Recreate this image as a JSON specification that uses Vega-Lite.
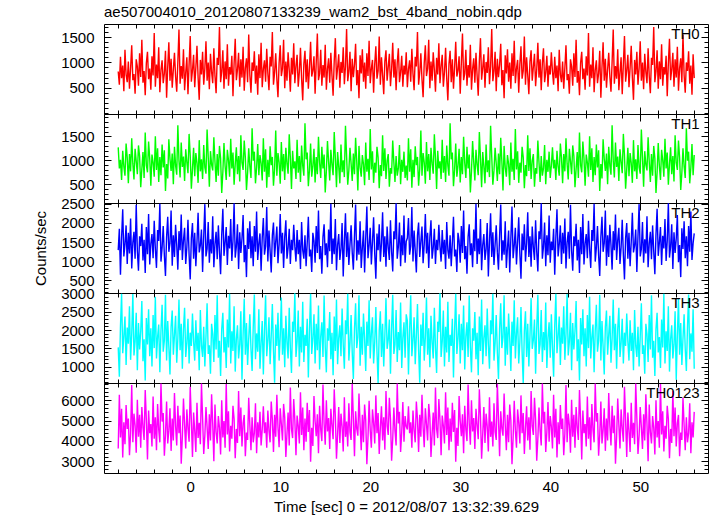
{
"$schema": "https://vega.github.io/schema/vega-lite/v6.json",
"padding": {"left": 33, "top": 4, "right": 5, "bottom": 5},
"config": {
  "font": "Liberation Sans",
  "view": {"stroke": "black", "strokeWidth": 1},
  "concat": {"spacing": 0},
  "axis": {"labelFont": "Liberation Sans", "labelFontSize": 15, "labelColor": "black", "titleFont": "Liberation Sans", "titleFontSize": 15, "titleFontWeight": "normal", "titleColor": "black", "tickColor": "black", "tickWidth": 1, "domain": false, "grid": false, "format": "d"},
  "line": {"strokeWidth": 1.4, "clip": true}
},
"datasets": {"lc": [
{"t":-8,"th0":820,"th1":1270,"th2":1290,"th3":1530,"th0123":3630},
{"t":-7.875,"th0":560,"th1":830,"th2":1845,"th3":730,"th0123":6270},
{"t":-7.75,"th0":1110,"th1":1010,"th2":645,"th3":2110,"th0123":4170},
{"t":-7.625,"th0":690,"th1":590,"th2":1620,"th3":2990,"th0123":5580},
{"t":-7.5,"th0":940,"th1":1200,"th2":2355,"th3":1370,"th0123":3180},
{"t":-7.375,"th0":430,"th1":870,"th2":1125,"th3":1830,"th0123":4920},
{"t":-7.25,"th0":1250,"th1":680,"th2":1440,"th3":2370,"th0123":3840},
{"t":-7.125,"th0":760,"th1":1350,"th2":1935,"th3":1050,"th0123":5760},
{"t":-7,"th0":610,"th1":1060,"th2":930,"th3":2070,"th0123":4590},
{"t":-6.875,"th0":1020,"th1":520,"th2":1740,"th3":1630,"th0123":5100},
{"t":-6.75,"th0":480,"th1":1130,"th2":1200,"th3":2650,"th0123":3300},
{"t":-6.625,"th0":890,"th1":770,"th2":2115,"th3":1190,"th0123":4350},
{"t":-6.5,"th0":1340,"th1":1460,"th2":810,"th3":1890,"th0123":6750},
{"t":-6.375,"th0":650,"th1":930,"th2":1485,"th3":2980,"th0123":3930},
{"t":-6.25,"th0":770,"th1":600,"th2":1770,"th3":1310,"th0123":5340},
{"t":-6.125,"th0":380,"th1":1240,"th2":1065,"th3":1690,"th0123":4770},
{"t":-6,"th0":1060,"th1":980,"th2":2475,"th3":2470,"th0123":3420},
{"t":-5.875,"th0":920,"th1":710,"th2":1275,"th3":910,"th0123":6030},
{"t":-5.75,"th0":540,"th1":1310,"th2":750,"th3":2190,"th0123":4200},
{"t":-5.625,"th0":1180,"th1":1090,"th2":1650,"th3":1470,"th0123":5280},
{"t":-5.5,"th0":710,"th1":440,"th2":1395,"th3":1970,"th0123":3660},
{"t":-5.375,"th0":1450,"th1":820,"th2":1980,"th3":2790,"th0123":5670},
{"t":-5.25,"th0":600,"th1":1170,"th2":1020,"th3":1150,"th0123":4680},
{"t":-5.125,"th0":830,"th1":630,"th2":1560,"th3":1750,"th0123":4050},
{"t":-5,"th0":350,"th1":1580,"th2":690,"th3":630,"th0123":6510},
{"t":-4.875,"th0":990,"th1":900,"th2":1890,"th3":2330,"th0123":5040},
{"t":-4.75,"th0":1210,"th1":750,"th2":1185,"th3":1610,"th0123":3090},
{"t":-4.625,"th0":670,"th1":1390,"th2":2235,"th3":2570,"th0123":5490},
{"t":-4.5,"th0":880,"th1":1040,"th2":915,"th3":1290,"th0123":4380},
{"t":-4.375,"th0":460,"th1":470,"th2":1455,"th3":2050,"th0123":4830},
{"t":-4.25,"th0":1120,"th1":1120,"th2":1710,"th3":1010,"th0123":3720},
{"t":-4.125,"th0":740,"th1":950,"th2":1080,"th3":2410,"th0123":6180},
{"t":-4,"th0":1580,"th1":660,"th2":2055,"th3":1510,"th0123":4110},
{"t":-3.875,"th0":520,"th1":1500,"th2":1320,"th3":2910,"th0123":5160},
{"t":-3.75,"th0":960,"th1":800,"th2":825,"th3":1230,"th0123":3540},
{"t":-3.625,"th0":690,"th1":1250,"th2":1815,"th3":1810,"th0123":5820},
{"t":-3.5,"th0":1300,"th1":550,"th2":1530,"th3":2150,"th0123":4560},
{"t":-3.375,"th0":410,"th1":1070,"th2":2500,"th3":850,"th0123":3930},
{"t":-3.25,"th0":850,"th1":690,"th2":990,"th3":1990,"th0123":6820},
{"t":-3.125,"th0":1040,"th1":1330,"th2":1350,"th3":2690,"th0123":4950},
{"t":-3,"th0":590,"th1":850,"th2":1920,"th3":1410,"th0123":5370},
{"t":-2.875,"th0":780,"th1":1210,"th2":1155,"th3":1710,"th0123":3270},
{"t":-2.75,"th0":1230,"th1":360,"th2":615,"th3":2960,"th0123":4290},
{"t":-2.625,"th0":300,"th1":920,"th2":1635,"th3":1170,"th0123":5940},
{"t":-2.5,"th0":910,"th1":620,"th2":2160,"th3":2250,"th0123":3870},
{"t":-2.375,"th0":1400,"th1":1440,"th2":1245,"th3":1550,"th0123":4530},
{"t":-2.25,"th0":640,"th1":1030,"th2":1470,"th3":790,"th0123":5610},
{"t":-2.125,"th0":1070,"th1":780,"th2":2325,"th3":2090,"th0123":3510},
{"t":-2,"th0":500,"th1":1140,"th2":885,"th3":2530,"th0123":5100},
{"t":-1.875,"th0":860,"th1":500,"th2":1680,"th3":1330,"th0123":4020},
{"t":-1.75,"th0":1190,"th1":1280,"th2":1110,"th3":1870,"th0123":6360},
{"t":-1.625,"th0":720,"th1":890,"th2":1950,"th3":2390,"th0123":4740},
{"t":-1.5,"th0":420,"th1":700,"th2":1425,"th3":1110,"th0123":3780},
{"t":-1.375,"th0":1010,"th1":1730,"th2":780,"th3":1770,"th0123":5730},
{"t":-1.25,"th0":1650,"th1":990,"th2":1785,"th3":2830,"th0123":4380},
{"t":-1.125,"th0":580,"th1":640,"th2":1290,"th3":1450,"th0123":5250},
{"t":-1,"th0":930,"th1":1370,"th2":2220,"th3":2170,"th0123":2880},
{"t":-0.875,"th0":680,"th1":860,"th2":1035,"th3":950,"th0123":4200},
{"t":-0.75,"th0":1260,"th1":1080,"th2":1545,"th3":2030,"th0123":6090},
{"t":-0.625,"th0":450,"th1":570,"th2":1875,"th3":2610,"th0123":4800},
{"t":-0.5,"th0":800,"th1":1230,"th2":930,"th3":1270,"th0123":3630},
{"t":-0.375,"th0":1100,"th1":960,"th2":1365,"th3":1650,"th0123":5550},
{"t":-0.25,"th0":370,"th1":730,"th2":2085,"th3":2310,"th0123":4620},
{"t":-0.125,"th0":970,"th1":1550,"th2":1170,"th3":1090,"th0123":3960},
{"t":0,"th0":1520,"th1":1100,"th2":525,"th3":1930,"th0123":6660},
{"t":0.125,"th0":620,"th1":410,"th2":1605,"th3":1570,"th0123":5010},
{"t":0.25,"th0":840,"th1":810,"th2":1995,"th3":2450,"th0123":3210},
{"t":0.375,"th0":1150,"th1":1260,"th2":1065,"th3":1690,"th0123":5400},
{"t":0.5,"th0":510,"th1":670,"th2":1740,"th3":1170,"th0123":4500},
{"t":0.625,"th0":900,"th1":1150,"th2":870,"th3":2270,"th0123":3450},
{"t":0.75,"th0":1330,"th1":940,"th2":1500,"th3":1430,"th0123":5880},
{"t":0.875,"th0":700,"th1":530,"th2":2265,"th3":1930,"th0123":4140},
{"t":1,"th0":260,"th1":1420,"th2":1230,"th3":910,"th0123":4890},
{"t":1.125,"th0":1050,"th1":770,"th2":1410,"th3":2550,"th0123":3840},
{"t":1.25,"th0":760,"th1":1020,"th2":1830,"th3":1570,"th0123":6830},
{"t":1.375,"th0":1210,"th1":610,"th2":720,"th3":1270,"th0123":5130},
{"t":1.5,"th0":560,"th1":1320,"th2":1650,"th3":2090,"th0123":3360},
{"t":1.625,"th0":880,"th1":850,"th2":2490,"th3":1010,"th0123":4260},
{"t":1.75,"th0":1420,"th1":720,"th2":1125,"th3":1830,"th0123":5670},
{"t":1.875,"th0":640,"th1":1640,"th2":1320,"th3":2730,"th0123":4680},
{"t":2,"th0":1000,"th1":1070,"th2":2025,"th3":1350,"th0123":3600},
{"t":2.125,"th0":470,"th1":450,"th2":960,"th3":1590,"th0123":5310},
{"t":2.25,"th0":1170,"th1":1190,"th2":1575,"th3":810,"th0123":4020},
{"t":2.375,"th0":810,"th1":910,"th2":1200,"th3":2170,"th0123":6300},
{"t":2.5,"th0":590,"th1":790,"th2":2175,"th3":1890,"th0123":4830},
{"t":2.625,"th0":1280,"th1":1480,"th2":840,"th3":1130,"th0123":3000},
{"t":2.75,"th0":730,"th1":970,"th2":1455,"th3":2410,"th0123":5790},
{"t":2.875,"th0":390,"th1":550,"th2":1770,"th3":1470,"th0123":4440},
{"t":3,"th0":1090,"th1":1130,"th2":1050,"th3":2950,"th0123":3870},
{"t":3.125,"th0":950,"th1":680,"th2":1935,"th3":1250,"th0123":5220},
{"t":3.25,"th0":1700,"th1":1300,"th2":1260,"th3":1710,"th0123":4650},
{"t":3.375,"th0":610,"th1":1040,"th2":660,"th3":750,"th0123":3330},
{"t":3.5,"th0":820,"th1":320,"th2":1695,"th3":2030,"th0123":6000},
{"t":3.625,"th0":1240,"th1":750,"th2":2370,"th3":2470,"th0123":4170},
{"t":3.75,"th0":480,"th1":1360,"th2":1140,"th3":1390,"th0123":4980},
{"t":3.875,"th0":1020,"th1":880,"th2":1485,"th3":1810,"th0123":3660},
{"t":4,"th0":670,"th1":590,"th2":1890,"th3":970,"th0123":6800},
{"t":4.125,"th0":1360,"th1":1220,"th2":900,"th3":2290,"th0123":4320},
{"t":4.25,"th0":540,"th1":1000,"th2":1665,"th3":1530,"th0123":5460},
{"t":4.375,"th0":910,"th1":660,"th2":1335,"th3":2990,"th0123":3480},
{"t":4.5,"th0":760,"th1":1450,"th2":2100,"th3":1090,"th0123":4740},
{"t":4.625,"th0":1130,"th1":830,"th2":1005,"th3":1970,"th0123":4110},
{"t":4.75,"th0":330,"th1":1160,"th2":1530,"th3":1430,"th0123":5730},
{"t":4.875,"th0":980,"th1":490,"th2":2510,"th3":2650,"th0123":5070},
{"t":5,"th0":1470,"th1":920,"th2":1095,"th3":870,"th0123":3150},
{"t":5.125,"th0":650,"th1":1270,"th2":1380,"th3":1750,"th0123":4590},
{"t":5.25,"th0":860,"th1":710,"th2":1965,"th3":2130,"th0123":3900},
{"t":5.375,"th0":1190,"th1":1090,"th2":795,"th3":1230,"th0123":6450},
{"t":5.5,"th0":520,"th1":560,"th2":1755,"th3":1610,"th0123":4230},
{"t":5.625,"th0":1060,"th1":1520,"th2":1215,"th3":2510,"th0123":5640},
{"t":5.75,"th0":700,"th1":950,"th2":1590,"th3":650,"th0123":3720},
{"t":5.875,"th0":1310,"th1":800,"th2":2205,"th3":1870,"th0123":4860},
{"t":6,"th0":440,"th1":1410,"th2":975,"th3":2850,"th0123":5280},
{"t":6.125,"th0":890,"th1":1060,"th2":1425,"th3":1330,"th0123":3240},
{"t":6.25,"th0":1080,"th1":380,"th2":585,"th3":2190,"th0123":4410},
{"t":6.375,"th0":610,"th1":740,"th2":1860,"th3":1050,"th0123":4050},
{"t":6.5,"th0":1550,"th1":1250,"th2":1320,"th3":1770,"th0123":6120},
{"t":6.625,"th0":750,"th1":870,"th2":2040,"th3":2430,"th0123":4770},
{"t":6.75,"th0":400,"th1":630,"th2":1080,"th3":1490,"th0123":3540},
{"t":6.875,"th0":1000,"th1":1670,"th2":1650,"th3":890,"th0123":5160},
{"t":7,"th0":830,"th1":990,"th2":870,"th3":2070,"th0123":3930},
{"t":7.125,"th0":1220,"th1":1180,"th2":1920,"th3":2970,"th0123":4380},
{"t":7.25,"th0":580,"th1":520,"th2":1245,"th3":1210,"th0123":5850},
{"t":7.375,"th0":940,"th1":850,"th2":2295,"th3":1910,"th0123":3390},
{"t":7.5,"th0":360,"th1":1340,"th2":1035,"th3":1410,"th0123":4920},
{"t":7.625,"th0":1160,"th1":690,"th2":1470,"th3":2570,"th0123":4170},
{"t":7.75,"th0":690,"th1":1110,"th2":1725,"th3":950,"th0123":5430},
{"t":7.875,"th0":1390,"th1":940,"th2":750,"th3":1650,"th0123":3780},
{"t":8,"th0":510,"th1":580,"th2":1605,"th3":2250,"th0123":4560},
{"t":8.125,"th0":870,"th1":1460,"th2":2130,"th3":790,"th0123":5700},
{"t":8.25,"th0":1040,"th1":760,"th2":1170,"th3":1990,"th0123":4380},
{"t":8.375,"th0":620,"th1":1230,"th2":1395,"th3":2950,"th0123":4920},
{"t":8.5,"th0":1270,"th1":430,"th2":2415,"th3":1290,"th0123":3660},
{"t":8.625,"th0":780,"th1":1010,"th2":990,"th3":1730,"th0123":5490},
{"t":8.75,"th0":450,"th1":650,"th2":1800,"th3":2350,"th0123":4500},
{"t":8.875,"th0":1110,"th1":1290,"th2":1275,"th3":1070,"th0123":3930},
{"t":9,"th0":920,"th1":900,"th2":705,"th3":1850,"th0123":5940},
{"t":9.125,"th0":1600,"th1":1070,"th2":1680,"th3":2710,"th0123":5070},
{"t":9.25,"th0":560,"th1":470,"th2":2010,"th3":1450,"th0123":3450},
{"t":9.375,"th0":800,"th1":820,"th2":1110,"th3":570,"th0123":5280},
{"t":9.5,"th0":1180,"th1":1620,"th2":1515,"th3":2150,"th0123":4200},
{"t":9.625,"th0":670,"th1":680,"th2":1905,"th3":1570,"th0123":6270},
{"t":9.75,"th0":310,"th1":1150,"th2":945,"th3":2470,"th0123":4680},
{"t":9.875,"th0":990,"th1":960,"th2":1440,"th3":1170,"th0123":3690},
{"t":10,"th0":1340,"th1":510,"th2":2235,"th3":1810,"th0123":5610},
{"t":10.125,"th0":730,"th1":1380,"th2":1200,"th3":2890,"th0123":4830},
{"t":10.25,"th0":880,"th1":770,"th2":1740,"th3":1330,"th0123":4020},
{"t":10.375,"th0":1450,"th1":1130,"th2":825,"th3":2050,"th0123":5820},
{"t":10.5,"th0":490,"th1":590,"th2":1635,"th3":990,"th0123":5160},
{"t":10.625,"th0":1020,"th1":1260,"th2":2070,"th3":2390,"th0123":3210},
{"t":10.75,"th0":640,"th1":930,"th2":1065,"th3":1670,"th0123":4350},
{"t":10.875,"th0":1200,"th1":720,"th2":1350,"th3":1230,"th0123":5400},
{"t":11,"th0":850,"th1":1540,"th2":1845,"th3":2610,"th0123":3780},
{"t":11.125,"th0":420,"th1":1050,"th2":930,"th3":1510,"th0123":6630},
{"t":11.25,"th0":1090,"th1":400,"th2":1560,"th3":830,"th0123":4590},
{"t":11.375,"th0":760,"th1":1200,"th2":1290,"th3":2230,"th0123":4140},
{"t":11.5,"th0":1380,"th1":830,"th2":1950,"th3":1950,"th0123":6060},
{"t":11.625,"th0":590,"th1":980,"th2":1380,"th3":3000,"th0123":5010},
{"t":11.75,"th0":930,"th1":610,"th2":990,"th3":1270,"th0123":3300},
{"t":11.875,"th0":1150,"th1":1430,"th2":1815,"th3":1690,"th0123":5250},
{"t":12,"th0":520,"th1":740,"th2":1185,"th3":2530,"th0123":4740},
{"t":12.125,"th0":810,"th1":1090,"th2":1560,"th3":1010,"th0123":3870},
{"t":12.25,"th0":1290,"th1":550,"th2":795,"th3":2090,"th0123":6390},
{"t":12.375,"th0":680,"th1":1310,"th2":2025,"th3":1390,"th0123":4290},
{"t":12.5,"th0":250,"th1":890,"th2":1290,"th3":2770,"th0123":5640},
{"t":12.625,"th0":970,"th1":680,"th2":1065,"th3":1130,"th0123":3540},
{"t":12.75,"th0":1230,"th1":1770,"th2":1680,"th3":1870,"th0123":5100},
{"t":12.875,"th0":610,"th1":1020,"th2":870,"th3":1570,"th0123":3960},
{"t":13,"th0":1060,"th1":1160,"th2":1485,"th3":2310,"th0123":5880},
{"t":13.125,"th0":480,"th1":460,"th2":2160,"th3":710,"th0123":4440},
{"t":13.25,"th0":900,"th1":800,"th2":1125,"th3":2010,"th0123":5520},
{"t":13.375,"th0":1410,"th1":1350,"th2":1305,"th3":2990,"th0123":2970},
{"t":13.5,"th0":720,"th1":660,"th2":720,"th3":1350,"th0123":4650},
{"t":13.625,"th0":840,"th1":880,"th2":1740,"th3":1770,"th0123":3750},
{"t":13.75,"th0":1120,"th1":1240,"th2":1530,"th3":2430,"th0123":6210},
{"t":13.875,"th0":380,"th1":540,"th2":960,"th3":1090,"th0123":4980},
{"t":14,"th0":1000,"th1":1070,"th2":1920,"th3":2170,"th0123":4230},
{"t":14.125,"th0":1570,"th1":710,"th2":1215,"th3":1450,"th0123":5310},
{"t":14.25,"th0":650,"th1":1490,"th2":2325,"th3":2670,"th0123":3390},
{"t":14.375,"th0":780,"th1":950,"th2":1050,"th3":930,"th0123":5730},
{"t":14.5,"th0":1250,"th1":630,"th2":1395,"th3":1830,"th0123":4560},
{"t":14.625,"th0":540,"th1":1280,"th2":675,"th3":2210,"th0123":3990},
{"t":14.75,"th0":950,"th1":830,"th2":1635,"th3":1270,"th0123":6780},
{"t":14.875,"th0":700,"th1":1120,"th2":1965,"th3":2940,"th0123":4860},
{"t":15,"th0":1350,"th1":330,"th2":1155,"th3":1550,"th0123":3810},
{"t":15.125,"th0":460,"th1":770,"th2":1470,"th3":850,"th0123":6000},
{"t":15.25,"th0":870,"th1":1400,"th2":840,"th3":2050,"th0123":4470},
{"t":15.375,"th0":1080,"th1":970,"th2":1830,"th3":1710,"th0123":5130},
{"t":15.5,"th0":600,"th1":580,"th2":1260,"th3":2490,"th0123":3600},
{"t":15.625,"th0":1190,"th1":1220,"th2":2500,"th3":1210,"th0123":5580},
{"t":15.75,"th0":740,"th1":910,"th2":930,"th3":1930,"th0123":4770},
{"t":15.875,"th0":340,"th1":690,"th2":1590,"th3":770,"th0123":4080},
{"t":16,"th0":1030,"th1":1590,"th2":1185,"th3":2370,"th0123":6540},
{"t":16.125,"th0":1480,"th1":1040,"th2":2100,"th3":1430,"th0123":5190},
{"t":16.25,"th0":660,"th1":440,"th2":765,"th3":2830,"th0123":3120},
{"t":16.375,"th0":890,"th1":1170,"th2":1425,"th3":1070,"th0123":4320},
{"t":16.5,"th0":1160,"th1":870,"th2":1710,"th3":1790,"th0123":5670},
{"t":16.625,"th0":500,"th1":520,"th2":1035,"th3":2130,"th0123":3900},
{"t":16.75,"th0":1010,"th1":1330,"th2":1320,"th3":1290,"th0123":5340},
{"t":16.875,"th0":790,"th1":750,"th2":1995,"th3":2590,"th0123":4710},
{"t":17,"th0":1300,"th1":1000,"th2":600,"th3":1610,"th0123":3480},
{"t":17.125,"th0":570,"th1":650,"th2":1515,"th3":950,"th0123":6150},
{"t":17.25,"th0":920,"th1":1720,"th2":2250,"th3":2270,"th0123":4200},
{"t":17.375,"th0":1660,"th1":1080,"th2":1110,"th3":1890,"th0123":4950},
{"t":17.5,"th0":630,"th1":490,"th2":1755,"th3":2990,"th0123":3720},
{"t":17.625,"th0":820,"th1":790,"th2":900,"th3":1170,"th0123":5850},
{"t":17.75,"th0":1210,"th1":1260,"th2":1440,"th3":1650,"th0123":4440},
{"t":17.875,"th0":430,"th1":930,"th2":1935,"th3":2410,"th0123":4050},
{"t":18,"th0":1070,"th1":570,"th2":1230,"th3":1390,"th0123":6810},
{"t":18.125,"th0":710,"th1":1140,"th2":780,"th3":670,"th0123":5100},
{"t":18.25,"th0":960,"th1":710,"th2":1665,"th3":2030,"th0123":3240},
{"t":18.375,"th0":1370,"th1":1470,"th2":2480,"th3":2730,"th0123":5460},
{"t":18.5,"th0":550,"th1":980,"th2":1020,"th3":1510,"th0123":4620},
{"t":18.625,"th0":850,"th1":370,"th2":1545,"th3":1810,"th0123":4260},
{"t":18.75,"th0":290,"th1":1300,"th2":1170,"th3":2950,"th0123":6330},
{"t":18.875,"th0":1140,"th1":850,"th2":2040,"th3":1030,"th0123":4800},
{"t":19,"th0":780,"th1":660,"th2":825,"th3":2090,"th0123":3540},
{"t":19.125,"th0":1260,"th1":1110,"th2":1350,"th3":1330,"th0123":5280},
{"t":19.25,"th0":620,"th1":920,"th2":1800,"th3":2450,"th0123":3930},
{"t":19.375,"th0":1000,"th1":480,"th2":705,"th3":1750,"th0123":5790},
{"t":19.5,"th0":480,"th1":1370,"th2":1605,"th3":890,"th0123":5010},
{"t":19.625,"th0":1180,"th1":760,"th2":2430,"th3":2230,"th0123":2850},
{"t":19.75,"th0":730,"th1":1030,"th2":1080,"th3":1570,"th0123":4140},
{"t":19.875,"th0":1430,"th1":590,"th2":1410,"th3":2810,"th0123":5970},
{"t":20,"th0":590,"th1":1650,"th2":1875,"th3":1230,"th0123":4530},
{"t":20.125,"th0":880,"th1":810,"th2":915,"th3":1910,"th0123":3660},
{"t":20.25,"th0":1050,"th1":1190,"th2":1500,"th3":2350,"th0123":5550},
{"t":20.375,"th0":400,"th1":530,"th2":2145,"th3":1090,"th0123":4890},
{"t":20.5,"th0":970,"th1":950,"th2":1200,"th3":1670,"th0123":3870},
{"t":20.625,"th0":1320,"th1":740,"th2":540,"th3":2630,"th0123":6240},
{"t":20.75,"th0":680,"th1":1280,"th2":1725,"th3":1410,"th0123":4380},
{"t":20.875,"th0":830,"th1":1060,"th2":1290,"th3":550,"th0123":5370},
{"t":21,"th0":1510,"th1":420,"th2":1965,"th3":1990,"th0123":3360},
{"t":21.125,"th0":560,"th1":900,"th2":990,"th3":2510,"th0123":4650},
{"t":21.25,"th0":1100,"th1":670,"th2":1470,"th3":1270,"th0123":5700},
{"t":21.375,"th0":750,"th1":1520,"th2":2280,"th3":2170,"th0123":4020},
{"t":21.5,"th0":370,"th1":780,"th2":1110,"th3":1010,"th0123":5160},
{"t":21.625,"th0":1020,"th1":1250,"th2":1650,"th3":1850,"th0123":3570},
{"t":21.75,"th0":1240,"th1":610,"th2":855,"th3":2870,"th0123":6450},
{"t":21.875,"th0":640,"th1":990,"th2":1905,"th3":1490,"th0123":4740},
{"t":22,"th0":910,"th1":1130,"th2":1365,"th3":1730,"th0123":4290},
{"t":22.125,"th0":1170,"th1":450,"th2":1035,"th3":2290,"th0123":6120},
{"t":22.25,"th0":530,"th1":840,"th2":2070,"th3":810,"th0123":5070},
{"t":22.375,"th0":860,"th1":720,"th2":1245,"th3":2050,"th0123":3030},
{"t":22.5,"th0":1390,"th1":1410,"th2":735,"th3":2960,"th0123":4110},
{"t":22.625,"th0":700,"th1":960,"th2":1785,"th3":1350,"th0123":5640},
{"t":22.75,"th0":1060,"th1":550,"th2":1575,"th3":1610,"th0123":4500},
{"t":22.875,"th0":450,"th1":1090,"th2":2510,"th3":2550,"th0123":3780},
{"t":23,"th0":990,"th1":680,"th2":1065,"th3":1130,"th0123":6820},
{"t":23.125,"th0":1280,"th1":830,"th2":1380,"th3":1950,"th0123":4860},
{"t":23.25,"th0":610,"th1":1320,"th2":2010,"th3":1450,"th0123":5430},
{"t":23.375,"th0":800,"th1":500,"th2":870,"th3":2750,"th0123":3450},
{"t":23.5,"th0":1130,"th1":1010,"th2":1680,"th3":970,"th0123":4440},
{"t":23.625,"th0":520,"th1":760,"th2":1155,"th3":1790,"th0123":5910},
{"t":23.75,"th0":940,"th1":1180,"th2":2190,"th3":2210,"th0123":3960},
{"t":23.875,"th0":760,"th1":630,"th2":960,"th3":1250,"th0123":5220},
{"t":24,"th0":1200,"th1":890,"th2":1515,"th3":2430,"th0123":4710},
{"t":24.125,"th0":510,"th1":580,"th2":1605,"th3":2250,"th0123":4560},
{"t":24.25,"th0":870,"th1":1460,"th2":2130,"th3":790,"th0123":5700},
{"t":24.375,"th0":1040,"th1":760,"th2":1170,"th3":1990,"th0123":4380},
{"t":24.5,"th0":620,"th1":1230,"th2":1395,"th3":2950,"th0123":4920},
{"t":24.625,"th0":1270,"th1":430,"th2":2415,"th3":1290,"th0123":3660},
{"t":24.75,"th0":780,"th1":1010,"th2":990,"th3":1730,"th0123":5490},
{"t":24.875,"th0":450,"th1":650,"th2":1800,"th3":2350,"th0123":4500},
{"t":25,"th0":1110,"th1":1290,"th2":1275,"th3":1070,"th0123":3930},
{"t":25.125,"th0":920,"th1":900,"th2":705,"th3":1850,"th0123":5940},
{"t":25.25,"th0":1600,"th1":1070,"th2":1680,"th3":2710,"th0123":5070},
{"t":25.375,"th0":560,"th1":470,"th2":2010,"th3":1450,"th0123":3450},
{"t":25.5,"th0":800,"th1":820,"th2":1110,"th3":570,"th0123":5280},
{"t":25.625,"th0":1180,"th1":1620,"th2":1515,"th3":2150,"th0123":4200},
{"t":25.75,"th0":670,"th1":680,"th2":1905,"th3":1570,"th0123":6270},
{"t":25.875,"th0":310,"th1":1150,"th2":945,"th3":2470,"th0123":4680},
{"t":26,"th0":990,"th1":960,"th2":1440,"th3":1170,"th0123":3690},
{"t":26.125,"th0":1340,"th1":510,"th2":2235,"th3":1810,"th0123":5610},
{"t":26.25,"th0":730,"th1":1380,"th2":1200,"th3":2890,"th0123":4830},
{"t":26.375,"th0":880,"th1":770,"th2":1740,"th3":1330,"th0123":4020},
{"t":26.5,"th0":1450,"th1":1130,"th2":825,"th3":2050,"th0123":5820},
{"t":26.625,"th0":490,"th1":590,"th2":1635,"th3":990,"th0123":5160},
{"t":26.75,"th0":1020,"th1":1260,"th2":2070,"th3":2390,"th0123":3210},
{"t":26.875,"th0":640,"th1":930,"th2":1065,"th3":1670,"th0123":4350},
{"t":27,"th0":1200,"th1":720,"th2":1350,"th3":1230,"th0123":5400},
{"t":27.125,"th0":850,"th1":1540,"th2":1845,"th3":2610,"th0123":3780},
{"t":27.25,"th0":420,"th1":1050,"th2":930,"th3":1510,"th0123":6630},
{"t":27.375,"th0":1090,"th1":400,"th2":1560,"th3":830,"th0123":4590},
{"t":27.5,"th0":760,"th1":1200,"th2":1290,"th3":2230,"th0123":4140},
{"t":27.625,"th0":1380,"th1":830,"th2":1950,"th3":1950,"th0123":6060},
{"t":27.75,"th0":590,"th1":980,"th2":1380,"th3":3000,"th0123":5010},
{"t":27.875,"th0":930,"th1":610,"th2":990,"th3":1270,"th0123":3300},
{"t":28,"th0":1150,"th1":1430,"th2":1815,"th3":1690,"th0123":5250},
{"t":28.125,"th0":520,"th1":740,"th2":1185,"th3":2530,"th0123":4740},
{"t":28.25,"th0":810,"th1":1090,"th2":1560,"th3":1010,"th0123":3870},
{"t":28.375,"th0":1290,"th1":550,"th2":795,"th3":2090,"th0123":6390},
{"t":28.5,"th0":680,"th1":1310,"th2":2025,"th3":1390,"th0123":4290},
{"t":28.625,"th0":250,"th1":890,"th2":1290,"th3":2770,"th0123":5640},
{"t":28.75,"th0":970,"th1":680,"th2":1065,"th3":1130,"th0123":3540},
{"t":28.875,"th0":1230,"th1":1770,"th2":1680,"th3":1870,"th0123":5100},
{"t":29,"th0":610,"th1":1020,"th2":870,"th3":1570,"th0123":3960},
{"t":29.125,"th0":1060,"th1":1160,"th2":1485,"th3":2310,"th0123":5880},
{"t":29.25,"th0":480,"th1":460,"th2":2160,"th3":710,"th0123":4440},
{"t":29.375,"th0":900,"th1":800,"th2":1125,"th3":2010,"th0123":5520},
{"t":29.5,"th0":1410,"th1":1350,"th2":1305,"th3":2990,"th0123":2970},
{"t":29.625,"th0":720,"th1":660,"th2":720,"th3":1350,"th0123":4650},
{"t":29.75,"th0":840,"th1":880,"th2":1740,"th3":1770,"th0123":3750},
{"t":29.875,"th0":1120,"th1":1240,"th2":1530,"th3":2430,"th0123":6210},
{"t":30,"th0":380,"th1":540,"th2":960,"th3":1090,"th0123":4980},
{"t":30.125,"th0":1000,"th1":1070,"th2":1920,"th3":2170,"th0123":4230},
{"t":30.25,"th0":1570,"th1":710,"th2":1215,"th3":1450,"th0123":5310},
{"t":30.375,"th0":650,"th1":1490,"th2":2325,"th3":2670,"th0123":3390},
{"t":30.5,"th0":780,"th1":950,"th2":1050,"th3":930,"th0123":5730},
{"t":30.625,"th0":1250,"th1":630,"th2":1395,"th3":1830,"th0123":4560},
{"t":30.75,"th0":540,"th1":1280,"th2":675,"th3":2210,"th0123":3990},
{"t":30.875,"th0":950,"th1":830,"th2":1635,"th3":1270,"th0123":6780},
{"t":31,"th0":700,"th1":1120,"th2":1965,"th3":2940,"th0123":4860},
{"t":31.125,"th0":1350,"th1":330,"th2":1155,"th3":1550,"th0123":3810},
{"t":31.25,"th0":460,"th1":770,"th2":1470,"th3":850,"th0123":6000},
{"t":31.375,"th0":870,"th1":1400,"th2":840,"th3":2050,"th0123":4470},
{"t":31.5,"th0":1080,"th1":970,"th2":1830,"th3":1710,"th0123":5130},
{"t":31.625,"th0":600,"th1":580,"th2":1260,"th3":2490,"th0123":3600},
{"t":31.75,"th0":1190,"th1":1220,"th2":2500,"th3":1210,"th0123":5580},
{"t":31.875,"th0":740,"th1":910,"th2":930,"th3":1930,"th0123":4770},
{"t":32,"th0":340,"th1":690,"th2":1590,"th3":770,"th0123":4080},
{"t":32.125,"th0":1030,"th1":1590,"th2":1185,"th3":2370,"th0123":6540},
{"t":32.25,"th0":1480,"th1":1040,"th2":2100,"th3":1430,"th0123":5190},
{"t":32.375,"th0":660,"th1":440,"th2":765,"th3":2830,"th0123":3120},
{"t":32.5,"th0":890,"th1":1170,"th2":1425,"th3":1070,"th0123":4320},
{"t":32.625,"th0":1160,"th1":870,"th2":1710,"th3":1790,"th0123":5670},
{"t":32.75,"th0":500,"th1":520,"th2":1035,"th3":2130,"th0123":3900},
{"t":32.875,"th0":1010,"th1":1330,"th2":1320,"th3":1290,"th0123":5340},
{"t":33,"th0":790,"th1":750,"th2":1995,"th3":2590,"th0123":4710},
{"t":33.125,"th0":1300,"th1":1000,"th2":600,"th3":1610,"th0123":3480},
{"t":33.25,"th0":570,"th1":650,"th2":1515,"th3":950,"th0123":6150},
{"t":33.375,"th0":920,"th1":1720,"th2":2250,"th3":2270,"th0123":4200},
{"t":33.5,"th0":1660,"th1":1080,"th2":1110,"th3":1890,"th0123":4950},
{"t":33.625,"th0":630,"th1":490,"th2":1755,"th3":2990,"th0123":3720},
{"t":33.75,"th0":820,"th1":790,"th2":900,"th3":1170,"th0123":5850},
{"t":33.875,"th0":1210,"th1":1260,"th2":1440,"th3":1650,"th0123":4440},
{"t":34,"th0":430,"th1":930,"th2":1935,"th3":2410,"th0123":4050},
{"t":34.125,"th0":1070,"th1":570,"th2":1230,"th3":1390,"th0123":6810},
{"t":34.25,"th0":710,"th1":1140,"th2":780,"th3":670,"th0123":5100},
{"t":34.375,"th0":960,"th1":710,"th2":1665,"th3":2030,"th0123":3240},
{"t":34.5,"th0":1370,"th1":1470,"th2":2480,"th3":2730,"th0123":5460},
{"t":34.625,"th0":550,"th1":980,"th2":1020,"th3":1510,"th0123":4620},
{"t":34.75,"th0":850,"th1":370,"th2":1545,"th3":1810,"th0123":4260},
{"t":34.875,"th0":290,"th1":1300,"th2":1170,"th3":2950,"th0123":6330},
{"t":35,"th0":1140,"th1":850,"th2":2040,"th3":1030,"th0123":4800},
{"t":35.125,"th0":780,"th1":660,"th2":825,"th3":2090,"th0123":3540},
{"t":35.25,"th0":1260,"th1":1110,"th2":1350,"th3":1330,"th0123":5280},
{"t":35.375,"th0":620,"th1":920,"th2":1800,"th3":2450,"th0123":3930},
{"t":35.5,"th0":1000,"th1":480,"th2":705,"th3":1750,"th0123":5790},
{"t":35.625,"th0":480,"th1":1370,"th2":1605,"th3":890,"th0123":5010},
{"t":35.75,"th0":1180,"th1":760,"th2":2430,"th3":2230,"th0123":2850},
{"t":35.875,"th0":730,"th1":1030,"th2":1080,"th3":1570,"th0123":4140},
{"t":36,"th0":1430,"th1":590,"th2":1410,"th3":2810,"th0123":5970},
{"t":36.125,"th0":590,"th1":1650,"th2":1875,"th3":1230,"th0123":4530},
{"t":36.25,"th0":880,"th1":810,"th2":915,"th3":1910,"th0123":3660},
{"t":36.375,"th0":1050,"th1":1190,"th2":1500,"th3":2350,"th0123":5550},
{"t":36.5,"th0":400,"th1":530,"th2":2145,"th3":1090,"th0123":4890},
{"t":36.625,"th0":970,"th1":950,"th2":1200,"th3":1670,"th0123":3870},
{"t":36.75,"th0":1320,"th1":740,"th2":540,"th3":2630,"th0123":6240},
{"t":36.875,"th0":680,"th1":1280,"th2":1725,"th3":1410,"th0123":4380},
{"t":37,"th0":830,"th1":1060,"th2":1290,"th3":550,"th0123":5370},
{"t":37.125,"th0":1510,"th1":420,"th2":1965,"th3":1990,"th0123":3360},
{"t":37.25,"th0":560,"th1":900,"th2":990,"th3":2510,"th0123":4650},
{"t":37.375,"th0":1100,"th1":670,"th2":1470,"th3":1270,"th0123":5700},
{"t":37.5,"th0":750,"th1":1520,"th2":2280,"th3":2170,"th0123":4020},
{"t":37.625,"th0":370,"th1":780,"th2":1110,"th3":1010,"th0123":5160},
{"t":37.75,"th0":1020,"th1":1250,"th2":1650,"th3":1850,"th0123":3570},
{"t":37.875,"th0":1240,"th1":610,"th2":855,"th3":2870,"th0123":6450},
{"t":38,"th0":640,"th1":990,"th2":1905,"th3":1490,"th0123":4740},
{"t":38.125,"th0":910,"th1":1130,"th2":1365,"th3":1730,"th0123":4290},
{"t":38.25,"th0":1170,"th1":450,"th2":1035,"th3":2290,"th0123":6120},
{"t":38.375,"th0":530,"th1":840,"th2":2070,"th3":810,"th0123":5070},
{"t":38.5,"th0":860,"th1":720,"th2":1245,"th3":2050,"th0123":3030},
{"t":38.625,"th0":1390,"th1":1410,"th2":735,"th3":2960,"th0123":4110},
{"t":38.75,"th0":700,"th1":960,"th2":1785,"th3":1350,"th0123":5640},
{"t":38.875,"th0":1060,"th1":550,"th2":1575,"th3":1610,"th0123":4500},
{"t":39,"th0":450,"th1":1090,"th2":2510,"th3":2550,"th0123":3780},
{"t":39.125,"th0":990,"th1":680,"th2":1065,"th3":1130,"th0123":6820},
{"t":39.25,"th0":1280,"th1":830,"th2":1380,"th3":1950,"th0123":4860},
{"t":39.375,"th0":610,"th1":1320,"th2":2010,"th3":1450,"th0123":5430},
{"t":39.5,"th0":800,"th1":500,"th2":870,"th3":2750,"th0123":3450},
{"t":39.625,"th0":1130,"th1":1010,"th2":1680,"th3":970,"th0123":4440},
{"t":39.75,"th0":520,"th1":760,"th2":1155,"th3":1790,"th0123":5910},
{"t":39.875,"th0":940,"th1":1180,"th2":2190,"th3":2210,"th0123":3960},
{"t":40,"th0":760,"th1":630,"th2":960,"th3":1250,"th0123":5220},
{"t":40.125,"th0":1200,"th1":890,"th2":1515,"th3":2430,"th0123":4710},
{"t":40.25,"th0":820,"th1":1270,"th2":1290,"th3":1530,"th0123":3630},
{"t":40.375,"th0":560,"th1":830,"th2":1845,"th3":730,"th0123":6270},
{"t":40.5,"th0":1110,"th1":1010,"th2":645,"th3":2110,"th0123":4170},
{"t":40.625,"th0":690,"th1":590,"th2":1620,"th3":2990,"th0123":5580},
{"t":40.75,"th0":940,"th1":1200,"th2":2355,"th3":1370,"th0123":3180},
{"t":40.875,"th0":430,"th1":870,"th2":1125,"th3":1830,"th0123":4920},
{"t":41,"th0":1250,"th1":680,"th2":1440,"th3":2370,"th0123":3840},
{"t":41.125,"th0":760,"th1":1350,"th2":1935,"th3":1050,"th0123":5760},
{"t":41.25,"th0":610,"th1":1060,"th2":930,"th3":2070,"th0123":4590},
{"t":41.375,"th0":1020,"th1":520,"th2":1740,"th3":1630,"th0123":5100},
{"t":41.5,"th0":480,"th1":1130,"th2":1200,"th3":2650,"th0123":3300},
{"t":41.625,"th0":890,"th1":770,"th2":2115,"th3":1190,"th0123":4350},
{"t":41.75,"th0":1340,"th1":1460,"th2":810,"th3":1890,"th0123":6750},
{"t":41.875,"th0":650,"th1":930,"th2":1485,"th3":2980,"th0123":3930},
{"t":42,"th0":770,"th1":600,"th2":1770,"th3":1310,"th0123":5340},
{"t":42.125,"th0":380,"th1":1240,"th2":1065,"th3":1690,"th0123":4770},
{"t":42.25,"th0":1060,"th1":980,"th2":2475,"th3":2470,"th0123":3420},
{"t":42.375,"th0":920,"th1":710,"th2":1275,"th3":910,"th0123":6030},
{"t":42.5,"th0":540,"th1":1310,"th2":750,"th3":2190,"th0123":4200},
{"t":42.625,"th0":1180,"th1":1090,"th2":1650,"th3":1470,"th0123":5280},
{"t":42.75,"th0":710,"th1":440,"th2":1395,"th3":1970,"th0123":3660},
{"t":42.875,"th0":1450,"th1":820,"th2":1980,"th3":2790,"th0123":5670},
{"t":43,"th0":600,"th1":1170,"th2":1020,"th3":1150,"th0123":4680},
{"t":43.125,"th0":830,"th1":630,"th2":1560,"th3":1750,"th0123":4050},
{"t":43.25,"th0":350,"th1":1580,"th2":690,"th3":630,"th0123":6510},
{"t":43.375,"th0":990,"th1":900,"th2":1890,"th3":2330,"th0123":5040},
{"t":43.5,"th0":1210,"th1":750,"th2":1185,"th3":1610,"th0123":3090},
{"t":43.625,"th0":670,"th1":1390,"th2":2235,"th3":2570,"th0123":5490},
{"t":43.75,"th0":880,"th1":1040,"th2":915,"th3":1290,"th0123":4380},
{"t":43.875,"th0":460,"th1":470,"th2":1455,"th3":2050,"th0123":4830},
{"t":44,"th0":1120,"th1":1120,"th2":1710,"th3":1010,"th0123":3720},
{"t":44.125,"th0":740,"th1":950,"th2":1080,"th3":2410,"th0123":6180},
{"t":44.25,"th0":1580,"th1":660,"th2":2055,"th3":1510,"th0123":4110},
{"t":44.375,"th0":520,"th1":1500,"th2":1320,"th3":2910,"th0123":5160},
{"t":44.5,"th0":960,"th1":800,"th2":825,"th3":1230,"th0123":3540},
{"t":44.625,"th0":690,"th1":1250,"th2":1815,"th3":1810,"th0123":5820},
{"t":44.75,"th0":1300,"th1":550,"th2":1530,"th3":2150,"th0123":4560},
{"t":44.875,"th0":410,"th1":1070,"th2":2500,"th3":850,"th0123":3930},
{"t":45,"th0":850,"th1":690,"th2":990,"th3":1990,"th0123":6820},
{"t":45.125,"th0":1040,"th1":1330,"th2":1350,"th3":2690,"th0123":4950},
{"t":45.25,"th0":590,"th1":850,"th2":1920,"th3":1410,"th0123":5370},
{"t":45.375,"th0":780,"th1":1210,"th2":1155,"th3":1710,"th0123":3270},
{"t":45.5,"th0":1230,"th1":360,"th2":615,"th3":2960,"th0123":4290},
{"t":45.625,"th0":300,"th1":920,"th2":1635,"th3":1170,"th0123":5940},
{"t":45.75,"th0":910,"th1":620,"th2":2160,"th3":2250,"th0123":3870},
{"t":45.875,"th0":1400,"th1":1440,"th2":1245,"th3":1550,"th0123":4530},
{"t":46,"th0":640,"th1":1030,"th2":1470,"th3":790,"th0123":5610},
{"t":46.125,"th0":1070,"th1":780,"th2":2325,"th3":2090,"th0123":3510},
{"t":46.25,"th0":500,"th1":1140,"th2":885,"th3":2530,"th0123":5100},
{"t":46.375,"th0":860,"th1":500,"th2":1680,"th3":1330,"th0123":4020},
{"t":46.5,"th0":1190,"th1":1280,"th2":1110,"th3":1870,"th0123":6360},
{"t":46.625,"th0":720,"th1":890,"th2":1950,"th3":2390,"th0123":4740},
{"t":46.75,"th0":420,"th1":700,"th2":1425,"th3":1110,"th0123":3780},
{"t":46.875,"th0":1010,"th1":1730,"th2":780,"th3":1770,"th0123":5730},
{"t":47,"th0":1650,"th1":990,"th2":1785,"th3":2830,"th0123":4380},
{"t":47.125,"th0":580,"th1":640,"th2":1290,"th3":1450,"th0123":5250},
{"t":47.25,"th0":930,"th1":1370,"th2":2220,"th3":2170,"th0123":2880},
{"t":47.375,"th0":680,"th1":860,"th2":1035,"th3":950,"th0123":4200},
{"t":47.5,"th0":1260,"th1":1080,"th2":1545,"th3":2030,"th0123":6090},
{"t":47.625,"th0":450,"th1":570,"th2":1875,"th3":2610,"th0123":4800},
{"t":47.75,"th0":800,"th1":1230,"th2":930,"th3":1270,"th0123":3630},
{"t":47.875,"th0":1100,"th1":960,"th2":1365,"th3":1650,"th0123":5550},
{"t":48,"th0":370,"th1":730,"th2":2085,"th3":2310,"th0123":4620},
{"t":48.125,"th0":970,"th1":1550,"th2":1170,"th3":1090,"th0123":3960},
{"t":48.25,"th0":1520,"th1":1100,"th2":525,"th3":1930,"th0123":6660},
{"t":48.375,"th0":620,"th1":410,"th2":1605,"th3":1570,"th0123":5010},
{"t":48.5,"th0":840,"th1":810,"th2":1995,"th3":2450,"th0123":3210},
{"t":48.625,"th0":1150,"th1":1260,"th2":1065,"th3":1690,"th0123":5400},
{"t":48.75,"th0":510,"th1":670,"th2":1740,"th3":1170,"th0123":4500},
{"t":48.875,"th0":900,"th1":1150,"th2":870,"th3":2270,"th0123":3450},
{"t":49,"th0":1330,"th1":940,"th2":1500,"th3":1430,"th0123":5880},
{"t":49.125,"th0":700,"th1":530,"th2":2265,"th3":1930,"th0123":4140},
{"t":49.25,"th0":260,"th1":1420,"th2":1230,"th3":910,"th0123":4890},
{"t":49.375,"th0":1050,"th1":770,"th2":1410,"th3":2550,"th0123":3840},
{"t":49.5,"th0":760,"th1":1020,"th2":1830,"th3":1570,"th0123":6830},
{"t":49.625,"th0":1210,"th1":610,"th2":720,"th3":1270,"th0123":5130},
{"t":49.75,"th0":560,"th1":1320,"th2":1650,"th3":2090,"th0123":3360},
{"t":49.875,"th0":880,"th1":850,"th2":2490,"th3":1010,"th0123":4260},
{"t":50,"th0":1420,"th1":720,"th2":1125,"th3":1830,"th0123":5670},
{"t":50.125,"th0":640,"th1":1640,"th2":1320,"th3":2730,"th0123":4680},
{"t":50.25,"th0":1000,"th1":1070,"th2":2025,"th3":1350,"th0123":3600},
{"t":50.375,"th0":470,"th1":450,"th2":960,"th3":1590,"th0123":5310},
{"t":50.5,"th0":1170,"th1":1190,"th2":1575,"th3":810,"th0123":4020},
{"t":50.625,"th0":810,"th1":910,"th2":1200,"th3":2170,"th0123":6300},
{"t":50.75,"th0":590,"th1":790,"th2":2175,"th3":1890,"th0123":4830},
{"t":50.875,"th0":1280,"th1":1480,"th2":840,"th3":1130,"th0123":3000},
{"t":51,"th0":730,"th1":970,"th2":1455,"th3":2410,"th0123":5790},
{"t":51.125,"th0":390,"th1":550,"th2":1770,"th3":1470,"th0123":4440},
{"t":51.25,"th0":1090,"th1":1130,"th2":1050,"th3":2950,"th0123":3870},
{"t":51.375,"th0":950,"th1":680,"th2":1935,"th3":1250,"th0123":5220},
{"t":51.5,"th0":1700,"th1":1300,"th2":1260,"th3":1710,"th0123":4650},
{"t":51.625,"th0":610,"th1":1040,"th2":660,"th3":750,"th0123":3330},
{"t":51.75,"th0":820,"th1":320,"th2":1695,"th3":2030,"th0123":6000},
{"t":51.875,"th0":1240,"th1":750,"th2":2370,"th3":2470,"th0123":4170},
{"t":52,"th0":480,"th1":1360,"th2":1140,"th3":1390,"th0123":4980},
{"t":52.125,"th0":1020,"th1":880,"th2":1485,"th3":1810,"th0123":3660},
{"t":52.25,"th0":670,"th1":590,"th2":1890,"th3":970,"th0123":6800},
{"t":52.375,"th0":1360,"th1":1220,"th2":900,"th3":2290,"th0123":4320},
{"t":52.5,"th0":540,"th1":1000,"th2":1665,"th3":1530,"th0123":5460},
{"t":52.625,"th0":910,"th1":660,"th2":1335,"th3":2990,"th0123":3480},
{"t":52.75,"th0":760,"th1":1450,"th2":2100,"th3":1090,"th0123":4740},
{"t":52.875,"th0":1130,"th1":830,"th2":1005,"th3":1970,"th0123":4110},
{"t":53,"th0":330,"th1":1160,"th2":1530,"th3":1430,"th0123":5730},
{"t":53.125,"th0":980,"th1":490,"th2":2510,"th3":2650,"th0123":5070},
{"t":53.25,"th0":1470,"th1":920,"th2":1095,"th3":870,"th0123":3150},
{"t":53.375,"th0":650,"th1":1270,"th2":1380,"th3":1750,"th0123":4590},
{"t":53.5,"th0":860,"th1":710,"th2":1965,"th3":2130,"th0123":3900},
{"t":53.625,"th0":1190,"th1":1090,"th2":795,"th3":1230,"th0123":6450},
{"t":53.75,"th0":520,"th1":560,"th2":1755,"th3":1610,"th0123":4230},
{"t":53.875,"th0":1060,"th1":1520,"th2":1215,"th3":2510,"th0123":5640},
{"t":54,"th0":700,"th1":950,"th2":1590,"th3":650,"th0123":3720},
{"t":54.125,"th0":1310,"th1":800,"th2":2205,"th3":1870,"th0123":4860},
{"t":54.25,"th0":440,"th1":1410,"th2":975,"th3":2850,"th0123":5280},
{"t":54.375,"th0":890,"th1":1060,"th2":1425,"th3":1330,"th0123":3240},
{"t":54.5,"th0":1080,"th1":380,"th2":585,"th3":2190,"th0123":4410},
{"t":54.625,"th0":610,"th1":740,"th2":1860,"th3":1050,"th0123":4050},
{"t":54.75,"th0":1550,"th1":1250,"th2":1320,"th3":1770,"th0123":6120},
{"t":54.875,"th0":750,"th1":870,"th2":2040,"th3":2430,"th0123":4770},
{"t":55,"th0":400,"th1":630,"th2":1080,"th3":1490,"th0123":3540},
{"t":55.125,"th0":1000,"th1":1670,"th2":1650,"th3":890,"th0123":5160},
{"t":55.25,"th0":830,"th1":990,"th2":870,"th3":2070,"th0123":3930},
{"t":55.375,"th0":1220,"th1":1180,"th2":1920,"th3":2970,"th0123":4380},
{"t":55.5,"th0":580,"th1":520,"th2":1245,"th3":1210,"th0123":5850},
{"t":55.625,"th0":940,"th1":850,"th2":2295,"th3":1910,"th0123":3390},
{"t":55.75,"th0":360,"th1":1340,"th2":1035,"th3":1410,"th0123":4920},
{"t":55.875,"th0":1160,"th1":690,"th2":1470,"th3":2570,"th0123":4170},
{"t":56,"th0":690,"th1":1110,"th2":1725,"th3":950,"th0123":5430}
]},
"bounds": "flush",
"spacing": 0,
"vconcat": [
{
 "width": 604, "height": 90,
 "title": {"text": "ae507004010_20120807133239_wam2_bst_4band_nobin.qdp", "anchor": "start", "frame": "group", "font": "Liberation Sans", "fontSize": 15, "fontWeight": "normal", "color": "black", "offset": 4},
 "layer": [
  {"data": {"name": "lc"}, "mark": {"type": "line", "color": "#ff0000"},
   "encoding": {
    "x": {"field": "t", "type": "quantitative", "scale": {"domain": [-9.58, 57.53], "nice": false, "zero": false}, "axis": {"orient": "bottom", "values": [0,10,20,30,40,50], "tickSize": -7, "labels": false, "title": null}},
    "y": {"field": "th0", "type": "quantitative", "scale": {"domain": [-20, 1760], "nice": false, "zero": false}, "axis": {"orient": "left", "values": [500,1000,1500], "tickSize": -7, "labelPadding": 17, "title": null}}}},
  {"data": {"values": [{}]}, "mark": {"type": "point", "opacity": 0},
   "encoding": {
    "x": {"datum": 0, "type": "quantitative", "scale": {"domain": [-9.58, 57.53], "nice": false, "zero": false}, "axis": {"orient": "bottom", "values": [-8,-6,-4,-2,0,2,4,6,8,10,12,14,16,18,20,22,24,26,28,30,32,34,36,38,40,42,44,46,48,50,52,54,56], "tickSize": -4, "labels": false, "title": null}},
    "y": {"datum": 500, "type": "quantitative", "scale": {"domain": [-20, 1760], "nice": false, "zero": false}, "axis": {"orient": "left", "values": [0,100,200,300,400,500,600,700,800,900,1000,1100,1200,1300,1400,1500,1600,1700], "tickSize": -4, "labels": false, "title": null}}}},
  {"data": {"values": [{}]}, "mark": {"type": "point", "opacity": 0},
   "encoding": {
    "x": {"datum": 0, "type": "quantitative", "scale": {"domain": [-9.58, 57.53], "nice": false, "zero": false}, "axis": {"orient": "top", "values": [0,10,20,30,40,50], "tickSize": -7, "labels": false, "title": null}},
    "y": {"datum": 500, "type": "quantitative", "scale": {"domain": [-20, 1760], "nice": false, "zero": false}, "axis": {"orient": "right", "values": [500,1000,1500], "tickSize": -7, "labels": false, "title": null}}}},
  {"data": {"values": [{}]}, "mark": {"type": "point", "opacity": 0},
   "encoding": {
    "x": {"datum": 0, "type": "quantitative", "scale": {"domain": [-9.58, 57.53], "nice": false, "zero": false}, "axis": {"orient": "top", "values": [-8,-6,-4,-2,0,2,4,6,8,10,12,14,16,18,20,22,24,26,28,30,32,34,36,38,40,42,44,46,48,50,52,54,56], "tickSize": -4, "labels": false, "title": null}},
    "y": {"datum": 500, "type": "quantitative", "scale": {"domain": [-20, 1760], "nice": false, "zero": false}, "axis": {"orient": "right", "values": [0,100,200,300,400,500,600,700,800,900,1000,1100,1200,1300,1400,1500,1600,1700], "tickSize": -4, "labels": false, "title": null}}}},
  {"data": {"values": [{"label": "TH0"}]}, "mark": {"type": "text", "align": "right", "baseline": "top", "font": "Liberation Sans", "fontSize": 15, "color": "black", "dy": 3},
   "encoding": {
    "x": {"datum": 56.6, "type": "quantitative", "scale": {"domain": [-9.58, 57.53], "nice": false, "zero": false}, "axis": null},
    "y": {"datum": 1760, "type": "quantitative", "scale": {"domain": [-20, 1760], "nice": false, "zero": false}, "axis": null},
    "text": {"field": "label"}}}
 ],
 "resolve": {"axis": {"x": "independent", "y": "independent"}}
},
{
 "width": 604, "height": 89,
 "layer": [
  {"data": {"name": "lc"}, "mark": {"type": "line", "color": "#00ff00"},
   "encoding": {
    "x": {"field": "t", "type": "quantitative", "scale": {"domain": [-9.58, 57.53], "nice": false, "zero": false}, "axis": {"orient": "bottom", "values": [0,10,20,30,40,50], "tickSize": -7, "labels": false, "title": null}},
    "y": {"field": "th1", "type": "quantitative", "scale": {"domain": [110, 1965], "nice": false, "zero": false}, "axis": {"orient": "left", "values": [500,1000,1500], "tickSize": -7, "labelPadding": 17, "title": null}}}},
  {"data": {"values": [{}]}, "mark": {"type": "point", "opacity": 0},
   "encoding": {
    "x": {"datum": 0, "type": "quantitative", "scale": {"domain": [-9.58, 57.53], "nice": false, "zero": false}, "axis": {"orient": "bottom", "values": [-8,-6,-4,-2,0,2,4,6,8,10,12,14,16,18,20,22,24,26,28,30,32,34,36,38,40,42,44,46,48,50,52,54,56], "tickSize": -4, "labels": false, "title": null}},
    "y": {"datum": 500, "type": "quantitative", "scale": {"domain": [110, 1965], "nice": false, "zero": false}, "axis": {"orient": "left", "values": [200,300,400,500,600,700,800,900,1000,1100,1200,1300,1400,1500,1600,1700,1800,1900], "tickSize": -4, "labels": false, "title": null}}}},
  {"data": {"values": [{}]}, "mark": {"type": "point", "opacity": 0},
   "encoding": {
    "x": {"datum": 0, "type": "quantitative", "scale": {"domain": [-9.58, 57.53], "nice": false, "zero": false}, "axis": {"orient": "top", "values": [0,10,20,30,40,50], "tickSize": -7, "labels": false, "title": null}},
    "y": {"datum": 500, "type": "quantitative", "scale": {"domain": [110, 1965], "nice": false, "zero": false}, "axis": {"orient": "right", "values": [500,1000,1500], "tickSize": -7, "labels": false, "title": null}}}},
  {"data": {"values": [{}]}, "mark": {"type": "point", "opacity": 0},
   "encoding": {
    "x": {"datum": 0, "type": "quantitative", "scale": {"domain": [-9.58, 57.53], "nice": false, "zero": false}, "axis": {"orient": "top", "values": [-8,-6,-4,-2,0,2,4,6,8,10,12,14,16,18,20,22,24,26,28,30,32,34,36,38,40,42,44,46,48,50,52,54,56], "tickSize": -4, "labels": false, "title": null}},
    "y": {"datum": 500, "type": "quantitative", "scale": {"domain": [110, 1965], "nice": false, "zero": false}, "axis": {"orient": "right", "values": [200,300,400,500,600,700,800,900,1000,1100,1200,1300,1400,1500,1600,1700,1800,1900], "tickSize": -4, "labels": false, "title": null}}}},
  {"data": {"values": [{"label": "TH1"}]}, "mark": {"type": "text", "align": "right", "baseline": "top", "font": "Liberation Sans", "fontSize": 15, "color": "black", "dy": 3},
   "encoding": {
    "x": {"datum": 56.6, "type": "quantitative", "scale": {"domain": [-9.58, 57.53], "nice": false, "zero": false}, "axis": null},
    "y": {"datum": 1965, "type": "quantitative", "scale": {"domain": [110, 1965], "nice": false, "zero": false}, "axis": null},
    "text": {"field": "label"}}}
 ],
 "resolve": {"axis": {"x": "independent", "y": "independent"}}
},
{
 "width": 604, "height": 90,
 "layer": [
  {"data": {"name": "lc"}, "mark": {"type": "line", "color": "#0000ff"},
   "encoding": {
    "x": {"field": "t", "type": "quantitative", "scale": {"domain": [-9.58, 57.53], "nice": false, "zero": false}, "axis": {"orient": "bottom", "values": [0,10,20,30,40,50], "tickSize": -7, "labels": false, "title": null}},
    "y": {"field": "th2", "type": "quantitative", "scale": {"domain": [170, 2520], "nice": false, "zero": false}, "axis": {"orient": "left", "values": [500,1000,1500,2000,2500], "tickSize": -7, "labelPadding": 17, "title": "Counts/sec", "titlePadding": 12}}}},
  {"data": {"values": [{}]}, "mark": {"type": "point", "opacity": 0},
   "encoding": {
    "x": {"datum": 0, "type": "quantitative", "scale": {"domain": [-9.58, 57.53], "nice": false, "zero": false}, "axis": {"orient": "bottom", "values": [-8,-6,-4,-2,0,2,4,6,8,10,12,14,16,18,20,22,24,26,28,30,32,34,36,38,40,42,44,46,48,50,52,54,56], "tickSize": -4, "labels": false, "title": null}},
    "y": {"datum": 500, "type": "quantitative", "scale": {"domain": [170, 2520], "nice": false, "zero": false}, "axis": {"orient": "left", "values": [200,300,400,500,600,700,800,900,1000,1100,1200,1300,1400,1500,1600,1700,1800,1900,2000,2100,2200,2300,2400,2500], "tickSize": -4, "labels": false, "title": null}}}},
  {"data": {"values": [{}]}, "mark": {"type": "point", "opacity": 0},
   "encoding": {
    "x": {"datum": 0, "type": "quantitative", "scale": {"domain": [-9.58, 57.53], "nice": false, "zero": false}, "axis": {"orient": "top", "values": [0,10,20,30,40,50], "tickSize": -7, "labels": false, "title": null}},
    "y": {"datum": 500, "type": "quantitative", "scale": {"domain": [170, 2520], "nice": false, "zero": false}, "axis": {"orient": "right", "values": [500,1000,1500,2000,2500], "tickSize": -7, "labels": false, "title": null}}}},
  {"data": {"values": [{}]}, "mark": {"type": "point", "opacity": 0},
   "encoding": {
    "x": {"datum": 0, "type": "quantitative", "scale": {"domain": [-9.58, 57.53], "nice": false, "zero": false}, "axis": {"orient": "top", "values": [-8,-6,-4,-2,0,2,4,6,8,10,12,14,16,18,20,22,24,26,28,30,32,34,36,38,40,42,44,46,48,50,52,54,56], "tickSize": -4, "labels": false, "title": null}},
    "y": {"datum": 500, "type": "quantitative", "scale": {"domain": [170, 2520], "nice": false, "zero": false}, "axis": {"orient": "right", "values": [200,300,400,500,600,700,800,900,1000,1100,1200,1300,1400,1500,1600,1700,1800,1900,2000,2100,2200,2300,2400,2500], "tickSize": -4, "labels": false, "title": null}}}},
  {"data": {"values": [{"label": "TH2"}]}, "mark": {"type": "text", "align": "right", "baseline": "top", "font": "Liberation Sans", "fontSize": 15, "color": "black", "dy": 3},
   "encoding": {
    "x": {"datum": 56.6, "type": "quantitative", "scale": {"domain": [-9.58, 57.53], "nice": false, "zero": false}, "axis": null},
    "y": {"datum": 2520, "type": "quantitative", "scale": {"domain": [170, 2520], "nice": false, "zero": false}, "axis": null},
    "text": {"field": "label"}}}
 ],
 "resolve": {"axis": {"x": "independent", "y": "independent"}}
},
{
 "width": 604, "height": 90,
 "layer": [
  {"data": {"name": "lc"}, "mark": {"type": "line", "color": "#00ffff"},
   "encoding": {
    "x": {"field": "t", "type": "quantitative", "scale": {"domain": [-9.58, 57.53], "nice": false, "zero": false}, "axis": {"orient": "bottom", "values": [0,10,20,30,40,50], "tickSize": -7, "labels": false, "title": null}},
    "y": {"field": "th3", "type": "quantitative", "scale": {"domain": [560, 3010], "nice": false, "zero": false}, "axis": {"orient": "left", "values": [1000,1500,2000,2500,3000], "tickSize": -7, "labelPadding": 17, "title": null}}}},
  {"data": {"values": [{}]}, "mark": {"type": "point", "opacity": 0},
   "encoding": {
    "x": {"datum": 0, "type": "quantitative", "scale": {"domain": [-9.58, 57.53], "nice": false, "zero": false}, "axis": {"orient": "bottom", "values": [-8,-6,-4,-2,0,2,4,6,8,10,12,14,16,18,20,22,24,26,28,30,32,34,36,38,40,42,44,46,48,50,52,54,56], "tickSize": -4, "labels": false, "title": null}},
    "y": {"datum": 1000, "type": "quantitative", "scale": {"domain": [560, 3010], "nice": false, "zero": false}, "axis": {"orient": "left", "values": [600,700,800,900,1000,1100,1200,1300,1400,1500,1600,1700,1800,1900,2000,2100,2200,2300,2400,2500,2600,2700,2800,2900,3000], "tickSize": -4, "labels": false, "title": null}}}},
  {"data": {"values": [{}]}, "mark": {"type": "point", "opacity": 0},
   "encoding": {
    "x": {"datum": 0, "type": "quantitative", "scale": {"domain": [-9.58, 57.53], "nice": false, "zero": false}, "axis": {"orient": "top", "values": [0,10,20,30,40,50], "tickSize": -7, "labels": false, "title": null}},
    "y": {"datum": 1000, "type": "quantitative", "scale": {"domain": [560, 3010], "nice": false, "zero": false}, "axis": {"orient": "right", "values": [1000,1500,2000,2500,3000], "tickSize": -7, "labels": false, "title": null}}}},
  {"data": {"values": [{}]}, "mark": {"type": "point", "opacity": 0},
   "encoding": {
    "x": {"datum": 0, "type": "quantitative", "scale": {"domain": [-9.58, 57.53], "nice": false, "zero": false}, "axis": {"orient": "top", "values": [-8,-6,-4,-2,0,2,4,6,8,10,12,14,16,18,20,22,24,26,28,30,32,34,36,38,40,42,44,46,48,50,52,54,56], "tickSize": -4, "labels": false, "title": null}},
    "y": {"datum": 1000, "type": "quantitative", "scale": {"domain": [560, 3010], "nice": false, "zero": false}, "axis": {"orient": "right", "values": [600,700,800,900,1000,1100,1200,1300,1400,1500,1600,1700,1800,1900,2000,2100,2200,2300,2400,2500,2600,2700,2800,2900,3000], "tickSize": -4, "labels": false, "title": null}}}},
  {"data": {"values": [{"label": "TH3"}]}, "mark": {"type": "text", "align": "right", "baseline": "top", "font": "Liberation Sans", "fontSize": 15, "color": "black", "dy": 3},
   "encoding": {
    "x": {"datum": 56.6, "type": "quantitative", "scale": {"domain": [-9.58, 57.53], "nice": false, "zero": false}, "axis": null},
    "y": {"datum": 3010, "type": "quantitative", "scale": {"domain": [560, 3010], "nice": false, "zero": false}, "axis": null},
    "text": {"field": "label"}}}
 ],
 "resolve": {"axis": {"x": "independent", "y": "independent"}}
},
{
 "width": 604, "height": 90,
 "layer": [
  {"data": {"name": "lc"}, "mark": {"type": "line", "color": "#ff00ff"},
   "encoding": {
    "x": {"field": "t", "type": "quantitative", "scale": {"domain": [-9.58, 57.53], "nice": false, "zero": false}, "axis": {"orient": "bottom", "values": [0,10,20,30,40,50], "tickSize": -7, "labels": true, "labelPadding": 13, "title": "Time [sec] 0 = 2012/08/07 13:32:39.629", "titlePadding": 5}},
    "y": {"field": "th0123", "type": "quantitative", "scale": {"domain": [2420, 6850], "nice": false, "zero": false}, "axis": {"orient": "left", "values": [3000,4000,5000,6000], "tickSize": -7, "labelPadding": 17, "title": null}}}},
  {"data": {"values": [{}]}, "mark": {"type": "point", "opacity": 0},
   "encoding": {
    "x": {"datum": 0, "type": "quantitative", "scale": {"domain": [-9.58, 57.53], "nice": false, "zero": false}, "axis": {"orient": "bottom", "values": [-8,-6,-4,-2,0,2,4,6,8,10,12,14,16,18,20,22,24,26,28,30,32,34,36,38,40,42,44,46,48,50,52,54,56], "tickSize": -4, "labels": false, "title": null}},
    "y": {"datum": 3000, "type": "quantitative", "scale": {"domain": [2420, 6850], "nice": false, "zero": false}, "axis": {"orient": "left", "values": [2600,2800,3000,3200,3400,3600,3800,4000,4200,4400,4600,4800,5000,5200,5400,5600,5800,6000,6200,6400,6600,6800], "tickSize": -4, "labels": false, "title": null}}}},
  {"data": {"values": [{}]}, "mark": {"type": "point", "opacity": 0},
   "encoding": {
    "x": {"datum": 0, "type": "quantitative", "scale": {"domain": [-9.58, 57.53], "nice": false, "zero": false}, "axis": {"orient": "top", "values": [0,10,20,30,40,50], "tickSize": -7, "labels": false, "title": null}},
    "y": {"datum": 3000, "type": "quantitative", "scale": {"domain": [2420, 6850], "nice": false, "zero": false}, "axis": {"orient": "right", "values": [3000,4000,5000,6000], "tickSize": -7, "labels": false, "title": null}}}},
  {"data": {"values": [{}]}, "mark": {"type": "point", "opacity": 0},
   "encoding": {
    "x": {"datum": 0, "type": "quantitative", "scale": {"domain": [-9.58, 57.53], "nice": false, "zero": false}, "axis": {"orient": "top", "values": [-8,-6,-4,-2,0,2,4,6,8,10,12,14,16,18,20,22,24,26,28,30,32,34,36,38,40,42,44,46,48,50,52,54,56], "tickSize": -4, "labels": false, "title": null}},
    "y": {"datum": 3000, "type": "quantitative", "scale": {"domain": [2420, 6850], "nice": false, "zero": false}, "axis": {"orient": "right", "values": [2600,2800,3000,3200,3400,3600,3800,4000,4200,4400,4600,4800,5000,5200,5400,5600,5800,6000,6200,6400,6600,6800], "tickSize": -4, "labels": false, "title": null}}}},
  {"data": {"values": [{"label": "TH0123"}]}, "mark": {"type": "text", "align": "right", "baseline": "top", "font": "Liberation Sans", "fontSize": 15, "color": "black", "dy": 3},
   "encoding": {
    "x": {"datum": 56.6, "type": "quantitative", "scale": {"domain": [-9.58, 57.53], "nice": false, "zero": false}, "axis": null},
    "y": {"datum": 6850, "type": "quantitative", "scale": {"domain": [2420, 6850], "nice": false, "zero": false}, "axis": null},
    "text": {"field": "label"}}}
 ],
 "resolve": {"axis": {"x": "independent", "y": "independent"}}
}
]
}
